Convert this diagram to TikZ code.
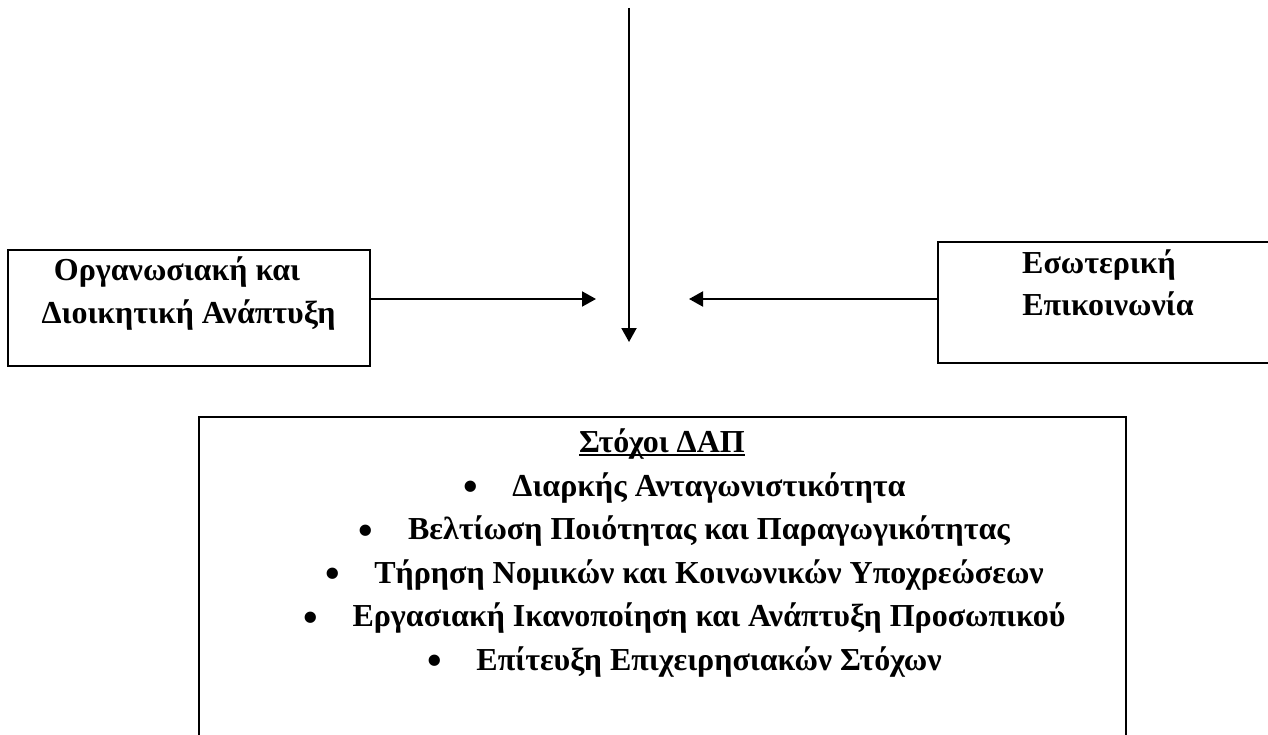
\documentclass[tikz,border=0pt]{standalone}
\usepackage{fontspec}
\setmainfont{Liberation Serif}
\usetikzlibrary{arrows.meta}
\newcommand\bitem[1]{\makebox[0pt]{\raisebox{-4.5pt}{\scalebox{1.3}{\textbullet}}}\hspace*{42pt}#1}
\begin{document}
\begin{tikzpicture}[x=1pt,y=-1pt,
  box/.style={draw, line width=2pt, rectangle, inner sep=0pt},
  lbl/.style={font=\fontsize{32}{38}\selectfont\bfseries, inner sep=0pt, anchor=base},
  arr/.style={line width=2pt, -{Triangle[length=14pt,width=15pt]}}]
\path[use as bounding box, clip] (0,0) rectangle (1268,735);
\node[box, minimum width=362pt, minimum height=116pt] (lbox) at (189,308) {};
\node[box, minimum width=362pt, minimum height=121pt] (rbox) at (1119,302.5) {};
\node[box, minimum width=927pt, minimum height=343pt] (goals) at (662.5,588.5) {};
\node[lbl] (l1) at (177,280) {Οργανωσιακή και};
\node[lbl] (l2) at (188.5,323) {Διοικητική Ανάπτυξη};
\node[lbl] (r1) at (1099,273) {Εσωτερική};
\node[lbl] (r2) at (1108,315) {Επικοινωνία};
\node[lbl] (title) at (662,452) {Στόχοι ΔΑΠ};
\draw[line width=2pt] ([yshift=-3pt]title.base west) -- ([yshift=-3pt]title.base east);
\node[lbl] (g1) at (688,496) {\bitem{Διαρκής Ανταγωνιστικότητα}};
\node[lbl] (g2) at (688,539.5) {\bitem{Βελτίωση Ποιότητας και Παραγωγικότητας}};
\node[lbl] (g3) at (688,583) {\bitem{Τήρηση Νομικών και Κοινωνικών Υποχρεώσεων}};
\node[lbl] (g4) at (688,626.5) {\bitem{Εργασιακή Ικανοποίηση και Ανάπτυξη Προσωπικού}};
\node[lbl] (g5) at (688,670) {\bitem{Επίτευξη Επιχειρησιακών Στόχων}};
\coordinate (lt) at (596,299);
\coordinate (rt) at (689,299);
\coordinate (vs) at (629,8);
\coordinate (vt) at (629,342);
\draw[arr] (lbox.east |- lt) -- (lt);
\draw[arr] (rbox.west |- rt) -- (rt);
\draw[arr] (vs) -- (vt);
\end{tikzpicture}
\end{document}
